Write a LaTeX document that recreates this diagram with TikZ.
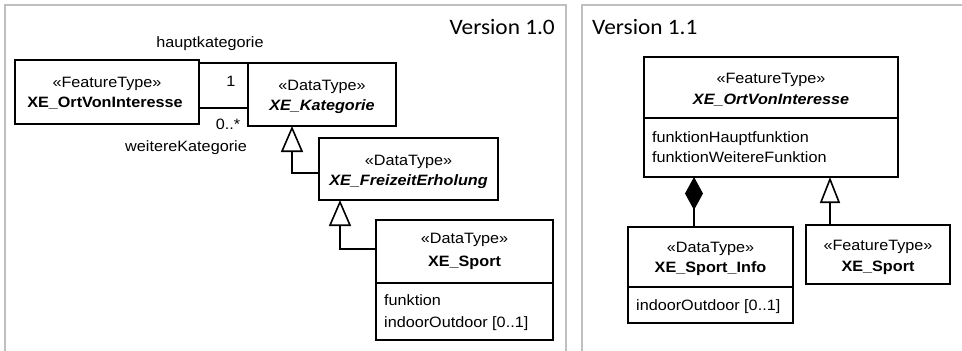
\documentclass[tikz,border=0pt]{standalone}
\usepackage{fontspec}
\setmainfont{Liberation Sans}[FakeStretch=1.08]
\newfontfamily\verfont{Carlito}[FakeStretch=1.06]
\usetikzlibrary{arrows.meta}
\begin{document}
\begin{tikzpicture}[x=1pt,y=-1pt,
  cls/.style={draw, line width=1.6pt, inner sep=0pt, outer sep=0pt, anchor=north west},
  txt/.style={inner sep=0pt, font=\fontsize{15}{20}\selectfont, text height=10.7pt, text depth=0pt},
  attr/.style={txt, anchor=west},
  ver/.style={inner sep=0pt, font=\verfont\fontsize{22}{26}\selectfont, text height=14.2pt, text depth=0pt},
  panel/.style={draw=black!25, line width=2pt},
  conn/.style={line width=1.6pt},
  gen/.style={conn, -{Triangle[open, width=22pt, length=26pt, line width=1.6pt]}},
  gensm/.style={conn, -{Triangle[open, width=20pt, length=26pt, line width=1.6pt]}},
  comp/.style={conn, {Diamond[width=18pt, length=33pt]}-}
]
\useasboundingbox (0,0) rectangle (962,351);
\clip (0,0) rectangle (962,351);
% panels
\draw[panel] (5,5) rectangle (566,370);
\draw[panel] (582,5) rectangle (990,370);
\node[ver, anchor=east] (v10) at (555,27) {Version 1.0};
\node[ver, anchor=west] (v11) at (592,27) {Version 1.1};

% ---------- Version 1.0 ----------
\node[cls, minimum width=184pt, minimum height=64pt] (A) at (15,60) {};
\node[txt] (At) at (107,82) {«FeatureType»};
\node[txt] (An) at (105,102) {\textbf{XE\_OrtVonInteresse}};

\node[cls, minimum width=148pt, minimum height=63pt] (B) at (248,63) {};
\node[txt] (Bt) at (322,85) {«DataType»};
\node[txt] (Bn) at (322,105) {\textbf{\textit{XE\_Kategorie}}};

\node[cls, minimum width=179pt, minimum height=62pt] (C) at (319,138) {};
\node[txt] (Ct) at (408.5,160) {«DataType»};
\node[txt] (Cn) at (408.5,180) {\textbf{\textit{XE\_FreizeitErholung}}};

\node[cls, minimum width=177pt, minimum height=120pt] (D) at (376,220) {};
\node[txt] (Dt) at (464.5,238) {«DataType»};
\node[txt] (Dn) at (464.5,261) {\textbf{XE\_Sport}};
\draw[conn] (376,283) -- (553,283);
\node[attr] (Da1) at (384,300) {funktion};
\node[attr] (Da2) at (384,322) {indoorOutdoor [0..1]};

% association
\draw[conn] ([yshift=-3pt]A.north east) -- (B.north west);
\draw[conn] ([yshift=16pt]A.south east) -- ([yshift=18pt]B.south west);
\node[txt] (m1) at (231,81) {1};
\node[txt] (m2) at (228,124) {0..*};
\node[txt] (r1) at (210,42) {hauptkategorie};
\node[txt] (r2) at (186,146) {weitereKategorie};

% generalizations
\draw[gen] ([yshift=-4pt]C.west) -| ([xshift=44pt]B.south west);
\draw[gen] ([yshift=-29pt]D.north west) -| ([xshift=21pt]C.south west);

% ---------- Version 1.1 ----------
\node[cls, minimum width=254pt, minimum height=120pt] (E) at (644,57) {};
\node[txt] (Et) at (771,78) {«FeatureType»};
\node[txt] (En) at (771,99) {\textbf{\textit{XE\_OrtVonInteresse}}};
\draw[conn] (644,118) -- (898,118);
\node[attr] (Ea1) at (652,137) {funktionHauptfunktion};
\node[attr] (Ea2) at (652,157) {funktionWeitereFunktion};

\node[cls, minimum width=165pt, minimum height=96pt] (F) at (628,227) {};
\node[txt] (Ft) at (710.5,247) {«DataType»};
\node[txt] (Fn) at (710.5,267) {\textbf{XE\_Sport\_Info}};
\draw[conn] (628,287) -- (793,287);
\node[attr] (Fa1) at (636,305) {indoorOutdoor [0..1]};

\node[cls, minimum width=144pt, minimum height=59pt] (G) at (806,225) {};
\node[txt] (Gt) at (878,245) {«FeatureType»};
\node[txt] (Gn) at (878,266) {\textbf{XE\_Sport}};

\coordinate (dE) at ([xshift=50pt]E.south west);
\draw[comp] (dE) -- (dE |- F.north);
\coordinate (gG) at ([xshift=24pt]G.north west);
\draw[gensm] (gG) -- (gG |- E.south);
\end{tikzpicture}
\end{document}
